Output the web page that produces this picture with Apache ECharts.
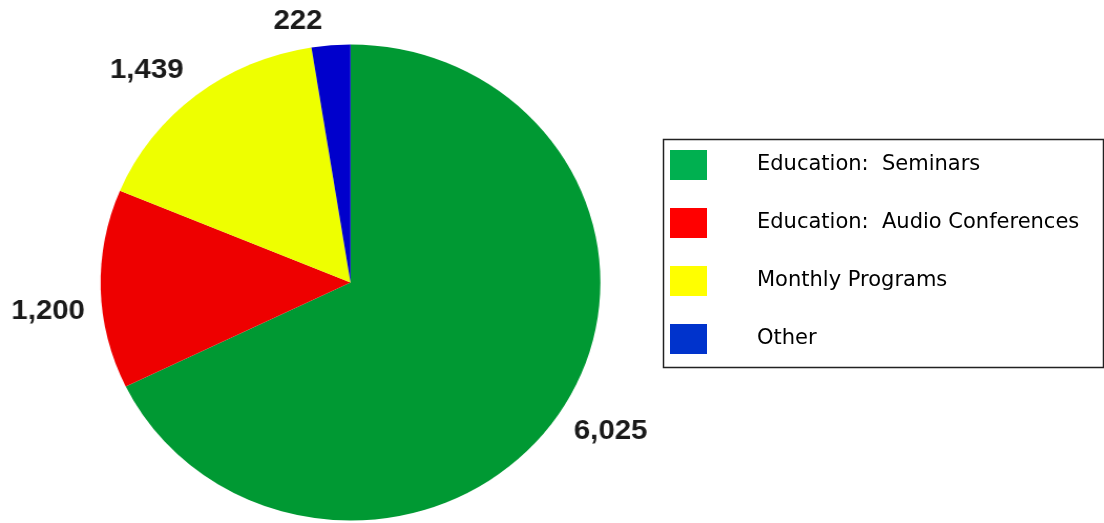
<!DOCTYPE html>
<html>
<head>
<meta charset="utf-8">
<script src="https://cdn.jsdelivr.net/npm/echarts@6/dist/echarts.min.js"></script>
<style>
  html, body { margin: 0; padding: 0; background: #fff; width: 1104px; height: 523px; overflow: hidden; }
  /* the pie is drawn slightly wider than tall */
  #pie { position: absolute; left: 0; top: 0; width: 660px; height: 523px; transform: scaleX(1.05); transform-origin: 0 0; }
  #key { position: absolute; left: 0; top: 0; width: 1104px; height: 523px; }
</style>
</head>
<body>
<div id="pie"></div>
<div id="key"></div>
<script>
// Attendance by activity
const categories = ['Education:  Seminars', 'Education:  Audio Conferences', 'Monthly Programs', 'Other'];
const values = [6025, 1200, 1439, 222];

const sliceColors = ['#009933', '#ee0000', '#eeff00', '#0000cc'];
const keyColors = ['#00b050', '#ff0000', '#ffff00', '#0033cc'];
// small shifts of each value label away from the rim
const labelNudge = [[6, 22], [-10, 22], [-7, -25], [-3, -24]];

const pieData = categories.map((name, i) => ({
  name: name,
  value: values[i],
  itemStyle: { color: sliceColors[i] }
}));

const pieChart = echarts.init(document.getElementById('pie'), null, { renderer: 'canvas' });
pieChart.setOption({
  animation: false,
  series: [{
    type: 'pie',
    center: [333.8, 282.5],
    radius: 238,
    startAngle: 90,
    clockwise: true,
    avoidLabelOverlap: false,
    data: pieData,
    label: {
      show: true,
      position: 'outside',
      formatter: p => p.value.toLocaleString('en-US'),
      fontFamily: 'Liberation Sans, Arial, sans-serif',
      fontWeight: 'bold',
      fontSize: 28,
      color: '#1a1a1a'
    },
    labelLine: { show: false, length: 0, length2: 0 },
    labelLayout: p => ({ dx: labelNudge[p.dataIndex][0], dy: labelNudge[p.dataIndex][1] }),
    emphasis: { disabled: true }
  }]
});

const keyChart = echarts.init(document.getElementById('key'), null, { renderer: 'canvas' });
keyChart.setOption({
  animation: false,
  legend: {
    orient: 'vertical',
    left: 670,
    top: 150,
    padding: 0,
    itemWidth: 37,
    itemHeight: 30,
    itemGap: 28,
    icon: 'rect',
    selectedMode: false,
    data: categories.map((name, i) => ({ name: name, itemStyle: { color: keyColors[i] } })),
    textStyle: {
      fontFamily: 'DejaVu Sans, Verdana, sans-serif',
      fontSize: 21,
      color: '#000',
      padding: [0, 0, 0, 45]
    }
  },
  graphic: [{
    type: 'rect',
    shape: { x: 663.5, y: 139.5, width: 440, height: 228 },
    style: { fill: 'none', stroke: '#222', lineWidth: 1.5 },
    silent: true
  }],
  series: [{
    type: 'pie',
    radius: 0,
    center: [-100, -100],
    silent: true,
    label: { show: false },
    labelLine: { show: false },
    data: categories.map((name, i) => ({ name: name, value: values[i], itemStyle: { color: keyColors[i] } }))
  }]
});
</script>
</body>
</html>
